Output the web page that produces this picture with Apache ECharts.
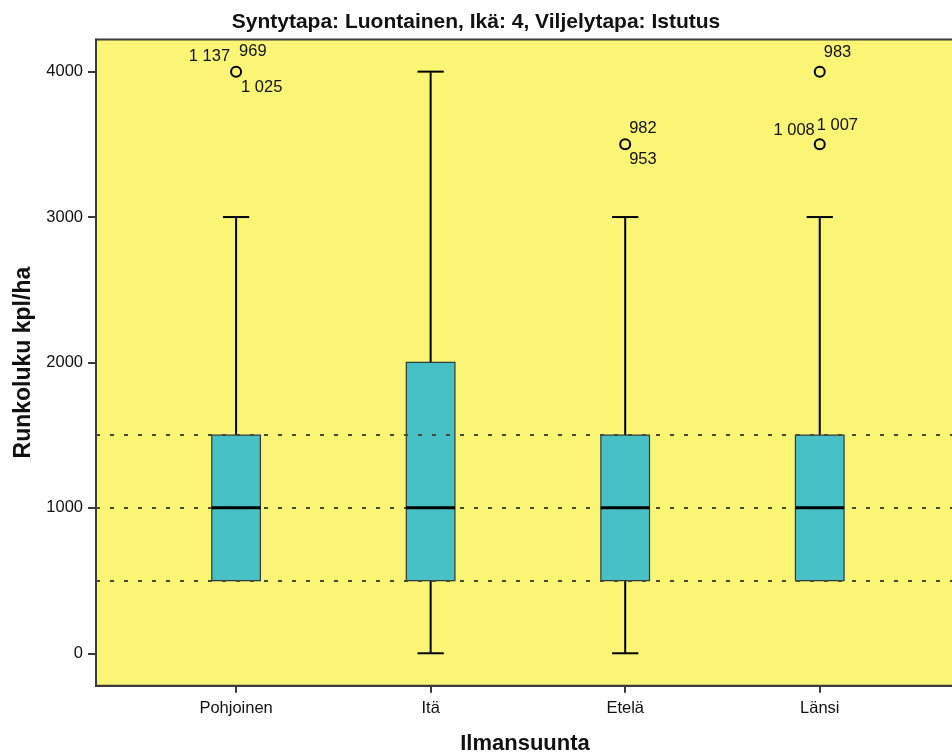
<!DOCTYPE html>
<html>
<head>
<meta charset="utf-8">
<script src="https://cdn.jsdelivr.net/npm/echarts@6/dist/echarts.min.js"></script>
<style>
  html, body { margin: 0; padding: 0; background: #ffffff; }
  #chart { width: 952px; height: 753px; }
</style>
</head>
<body>
<div id="chart"></div>
<script>
// Runkoluku (stems/ha) by direction – box plot summaries
const categories   = ['Pohjoinen', 'Itä', 'Etelä', 'Länsi'];
const whiskerLow   = [500, 0, 0, 500];
const quartile1    = [500, 500, 500, 500];
const medians      = [1000, 1000, 1000, 1000];
const quartile3    = [1500, 2000, 1500, 1500];
const whiskerHigh  = [3000, 4000, 3000, 3000];

// Outlying observations: category index, value, case numbers
const outlierCategory = [0, 2, 3, 3];
const outlierValue    = [4000, 3500, 4000, 3500];
const outlierCases    = [['1 137', '969', '1 025'], ['982', '953'], ['983'], ['1 008', '1 007']];

// Reference lines and y tick values
const referenceLines = [500, 1000, 1500];
const yTicks = [0, 1000, 2000, 3000, 4000];

// Label placement around each outlier marker (pixels, align)
const caseLabelPlacement = [
  [[-6, -15, 'right'], [3, -20, 'left'], [5, 16, 'left']],
  [[4, -16, 'left'], [4, 15, 'left']],
  [[4, -19, 'left']],
  [[-5, -14, 'right'], [-3, -19, 'left']]
];

const FONT = 'Liberation Sans, Arial, sans-serif';
const BOX_FILL = '#47C1C6';
const PLOT_BG = '#FAF574';
const LABEL_SIZE = 16.5;
const BOX_WIDTH = 0.25;   // in category units
const CAP_WIDTH = 0.135;

const boxData = categories.map((c, i) =>
  [i, whiskerLow[i], quartile1[i], medians[i], quartile3[i], whiskerHigh[i]]);
const medianData = categories.map((c, i) => [i, medians[i]]);
const outlierData = outlierValue.map((v, i) => [outlierCategory[i], v, i]);

function renderBox(params, api) {
  const x = api.value(0);
  const lo = api.coord([x, api.value(1)]);
  const q1 = api.coord([x, api.value(2)]);
  const q3 = api.coord([x, api.value(4)]);
  const hi = api.coord([x, api.value(5)]);
  const boxW = api.size([BOX_WIDTH, 0])[0];
  const capW = api.size([CAP_WIDTH, 0])[0];
  const cx = q1[0];
  const children = [];
  const lineStyle = { stroke: '#000', lineWidth: 2 };
  if (hi[1] < q3[1]) {
    children.push({ type: 'line', shape: { x1: cx, y1: q3[1], x2: cx, y2: hi[1] }, style: lineStyle });
    children.push({ type: 'line', shape: { x1: cx - capW / 2, y1: hi[1], x2: cx + capW / 2, y2: hi[1] }, style: lineStyle });
  }
  if (lo[1] > q1[1]) {
    children.push({ type: 'line', shape: { x1: cx, y1: q1[1], x2: cx, y2: lo[1] }, style: lineStyle });
    children.push({ type: 'line', shape: { x1: cx - capW / 2, y1: lo[1], x2: cx + capW / 2, y2: lo[1] }, style: lineStyle });
  }
  children.push({
    type: 'rect',
    shape: { x: cx - boxW / 2, y: q3[1], width: boxW, height: q1[1] - q3[1] },
    style: { fill: BOX_FILL, stroke: '#2f3a3a', lineWidth: 1.2 }
  });
  return { type: 'group', children };
}

function renderMedian(params, api) {
  const p = api.coord([api.value(0), api.value(1)]);
  const boxW = api.size([BOX_WIDTH, 0])[0];
  return {
    type: 'line',
    shape: { x1: p[0] - boxW / 2, y1: p[1], x2: p[0] + boxW / 2, y2: p[1] },
    style: { stroke: '#000', lineWidth: 3 }
  };
}

function renderOutlier(params, api) {
  const p = api.coord([api.value(0), api.value(1)]);
  const idx = api.value(2);
  const children = [{
    type: 'circle',
    shape: { cx: p[0], cy: p[1], r: 5 },
    style: { fill: 'none', stroke: '#000', lineWidth: 2 }
  }];
  outlierCases[idx].forEach((txt, k) => {
    const pl = caseLabelPlacement[idx][k];
    children.push({
      type: 'text',
      style: {
        text: txt, x: p[0] + pl[0], y: p[1] + pl[1],
        align: pl[2], verticalAlign: 'middle',
        fill: '#111', fontSize: LABEL_SIZE, fontFamily: FONT
      }
    });
  });
  return { type: 'group', children };
}

const chart = echarts.init(document.getElementById('chart'), null, { renderer: 'canvas' });
chart.setOption({
  backgroundColor: '#ffffff',
  animation: false,
  title: {
    text: 'Syntytapa: Luontainen, Ikä: 4, Viljelytapa: Istutus',
    left: 'center', top: 7,
    textStyle: { fontFamily: FONT, fontSize: 21, fontWeight: 'bold', color: '#111' }
  },
  grid: {
    left: 96, top: 39.5, right: -2, bottom: 67.3,
    outerBoundsMode: 'none',
    show: true, backgroundColor: PLOT_BG, borderColor: '#3a3a3a', borderWidth: 2
  },
  xAxis: {
    type: 'value', min: -0.72, max: 3.69,
    name: 'Ilmansuunta', nameLocation: 'middle', nameGap: 47,
    nameTextStyle: { fontFamily: FONT, fontSize: 22, fontWeight: 'bold', color: '#111' },
    axisLine: { show: true, onZero: false, lineStyle: { color: '#3a3a3a', width: 2 } },
    axisTick: { show: true, length: 7, customValues: categories.map((c, i) => i), lineStyle: { color: '#3a3a3a', width: 2 } },
    axisLabel: {
      customValues: categories.map((c, i) => i),
      formatter: v => categories[Math.round(v)] || '',
      fontFamily: FONT, fontSize: LABEL_SIZE, color: '#111', margin: 14
    },
    splitLine: { show: false }
  },
  yAxis: {
    type: 'value', min: -223, max: 4221,
    name: 'Runkoluku kpl/ha', nameLocation: 'middle', nameGap: 58, nameRotate: 90,
    nameTextStyle: { fontFamily: FONT, fontSize: 23, fontWeight: 'bold', color: '#111' },
    axisLine: { show: true, onZero: false, lineStyle: { color: '#3a3a3a', width: 2 } },
    axisTick: { show: true, length: 8, customValues: yTicks, lineStyle: { color: '#3a3a3a', width: 2 } },
    axisLabel: {
      customValues: yTicks, formatter: v => String(v),
      fontFamily: FONT, fontSize: LABEL_SIZE, color: '#111', margin: 13
    },
    splitLine: { show: false }
  },
  series: [
    {
      type: 'custom', name: 'box', renderItem: renderBox, data: boxData,
      encode: { x: 0, y: [1, 2, 3, 4, 5] }, z: 2
    },
    {
      type: 'custom', name: 'outliers', renderItem: renderOutlier, data: outlierData,
      encode: { x: 0, y: 1 }, z: 3
    },
    {
      type: 'line', data: [], z: 4,
      markLine: {
        silent: true, symbol: 'none', label: { show: false },
        lineStyle: { color: '#4a4a3a', width: 2, type: [4, 10] },
        data: referenceLines.map(v => ({ yAxis: v }))
      }
    },
    {
      type: 'custom', name: 'median', renderItem: renderMedian, data: medianData,
      encode: { x: 0, y: 1 }, z: 5
    }
  ]
});
</script>
</body>
</html>
